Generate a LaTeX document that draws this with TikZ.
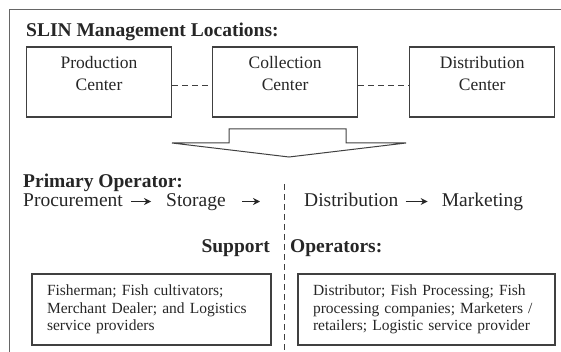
\documentclass[tikz,border=0pt]{standalone}
\usepackage{fontspec}
\setmainfont{Liberation Serif}
\usetikzlibrary{positioning}
\usetikzlibrary{arrows.meta}
\tikzset{basic/.style={draw=black!75,line width=1.1pt}}
\tikzset{location/.style={basic,rectangle,minimum width=145pt,minimum height=70pt}}
\tikzset{loctext/.style={align=center,inner sep=0pt,text=black!85,font=\fontsize{17.5}{22}\selectfont}}
\tikzset{heading/.style={inner sep=0pt,text=black!85,font=\fontsize{19.5}{22}\selectfont\bfseries}}
\tikzset{stage/.style={inner sep=0pt,text=black!85,text height=14pt,text depth=4pt,font=\fontsize{19.5}{22}\selectfont}}
\tikzset{actors/.style={basic,rectangle,align=left,inner xsep=15pt,minimum height=71pt,text=black!85,font=\fontsize{15.5}{17.5}\selectfont}}
\tikzset{flow/.style={-{Stealth[length=7pt,width=7pt]},line width=1.2pt,black!85}}
\tikzset{link/.style={draw=black!75,line width=0.9pt,dash pattern=on 6pt off 4pt}}

\begin{document}
\begin{tikzpicture}[x=1pt,y=-1pt]
        \useasboundingbox (0,0) rectangle (561,352);
        \draw[black!60,line width=1pt] (9,10) rectangle (575,365);
        \node[heading,anchor=west] (title) at (26,32) {SLIN Management Locations:};

        \node[location] (prod) at (99,82) {};
        \node[location,right=40pt of prod] (coll) {};
        \node[location,right=51pt of coll] (dist) {};
        \node[loctext,below=10pt of prod.north] (prodlabel) {Production\\Center};
        \node[loctext,below=10pt of coll.north] (colllabel) {Collection\\Center};
        \node[loctext,below=10pt of dist.north] (distlabel) {Distribution\\Center};
            \draw[link] ([yshift=-3pt]prod.east) -- ([yshift=-3pt]coll.west);
            \draw[link] ([yshift=-3pt]coll.east) -- ([yshift=-3pt]dist.west);

        % block arrow down to the operators
        \draw[basic,line width=1pt] (229,129) -- (346,129) -- (346,143) -- (406,143) -- (289,157) -- (172,143) -- (229,143) -- cycle;

        \node[heading,anchor=west] (primary) at (23,183) {Primary Operator:};
        \node[stage,anchor=base west] (proc) at (23,206.5) {Procurement};
        \node[stage,base right=43pt of proc] (stor) {Storage};
            \path[flow,shorten <=8pt,shorten >=15pt] (proc.east) edge (stor.west);
        \coordinate[right=34pt of stor.east] (storend);
            \path[flow,shorten <=16pt] (stor.east) edge (storend);
        \node[stage,anchor=base west] (distr) at (304,206.5) {Distribution};
        \node[stage,base right=43pt of distr] (market) {Marketing};
            \path[flow,shorten <=7pt,shorten >=14pt] (distr.east) edge (market.west);

        \coordinate (divtop) at (284,184);
        \coordinate (divbot) at (284,352);
            \draw[link] (divtop) -- (divbot);

        \node[heading,anchor=base east] (support) at (270,252.6) {Support};
        \node[heading,base right=20pt of support] (operators) {Operators:};

        \node[actors,text width=209pt] (upstream) at (151.5,309.5) {Fisherman; Fish cultivators;\\Merchant Dealer; and Logistics\\service providers};
        \node[actors,text width=227pt] (downstream) at (426.5,309.5) {Distributor; Fish Processing; Fish\\processing companies; Marketers /\\retailers; Logistic service provider};
    \end{tikzpicture}
\end{document}
